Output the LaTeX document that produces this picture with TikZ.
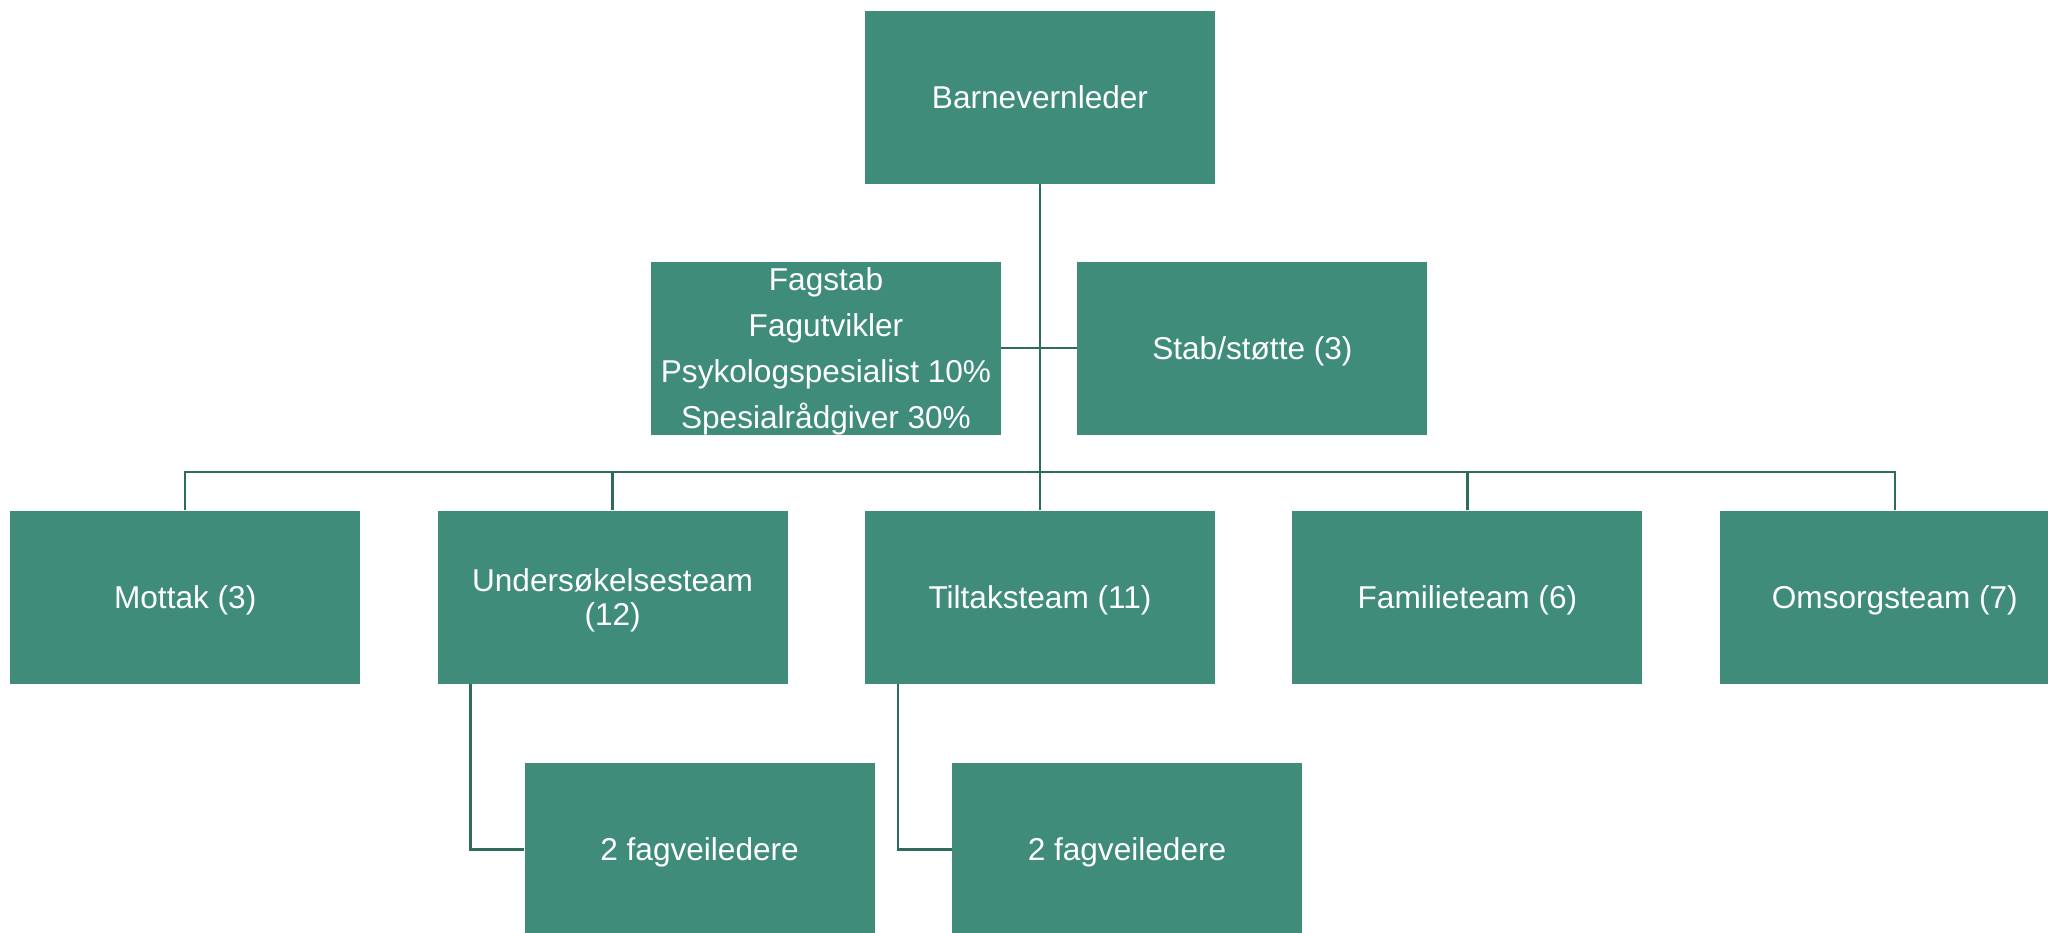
\documentclass[tikz,border=0pt]{standalone}
\usepackage{fontspec}
\setmainfont{Liberation Sans}
\usetikzlibrary{positioning}
\definecolor{teamfill}{HTML}{3F8C7A}
\definecolor{teamline}{HTML}{2E6B5D}
\tikzset{
  unit/.style={rectangle, minimum width=350pt, minimum height=173pt, inner sep=2pt, text depth=0pt, text centered, fill=teamfill, text=white, font=\fontsize{31.6}{34}\selectfont},
  link/.style={draw=teamline, line width=2.5pt}
}

\begin{document}
\begin{tikzpicture}[x=1pt, y=-1pt, node distance=77pt]
        \useasboundingbox (0,0) rectangle (2048,932);
        \clip (0,0) rectangle (2048,932);

        \node (leder) [unit] at (1040,97) {Barnevernleder};

        % Stab ved siden av lederlinjen
        \node (fagstab) [unit, align=center, font=\fontsize{31.6}{45.7}\selectfont] at (826,348) {Fagstab\\Fagutvikler\\Psykologspesialist 10\%\\Spesialrådgiver 30\%};
        \node (stotte) [unit, right=76pt of fagstab] {Stab/støtte (3)};

        % Teamene
        \node (tiltak) [unit] at (1040,597) {Tiltaksteam (11)};
        \node (unders) [unit, left=of tiltak, align=center] {Undersøkelsesteam\\(12)};
        \node (mottak) [unit, left=of unders] {Mottak (3)};
        \node (familie) [unit, right=of tiltak] {Familieteam (6)};
        \node (omsorg) [unit, right=of familie] {Omsorgsteam (7)};

        % Fagveiledere
        \node (veil1) [unit, below=79pt of unders, xshift=87pt] {2 fagveiledere};
        \node (veil2) [unit, below=79pt of tiltak, xshift=87pt] {2 fagveiledere};

        \coordinate (bar) at (1040,472);

        % Linjer
        \draw [link] (leder) -- (bar);
        \draw [link] (fagstab) -- (stotte);
        \draw [link] (mottak.north) |- (bar) -| (omsorg.north);
        \foreach \t in {unders,tiltak,familie}
          \draw [link] (\t.north) -- (\t.north |- bar);

        \draw [link] ([xshift=33pt]unders.south west) |- (veil1.west);
        \draw [link] ([xshift=33pt]tiltak.south west) |- (veil2.west);

    \end{tikzpicture}
\end{document}
